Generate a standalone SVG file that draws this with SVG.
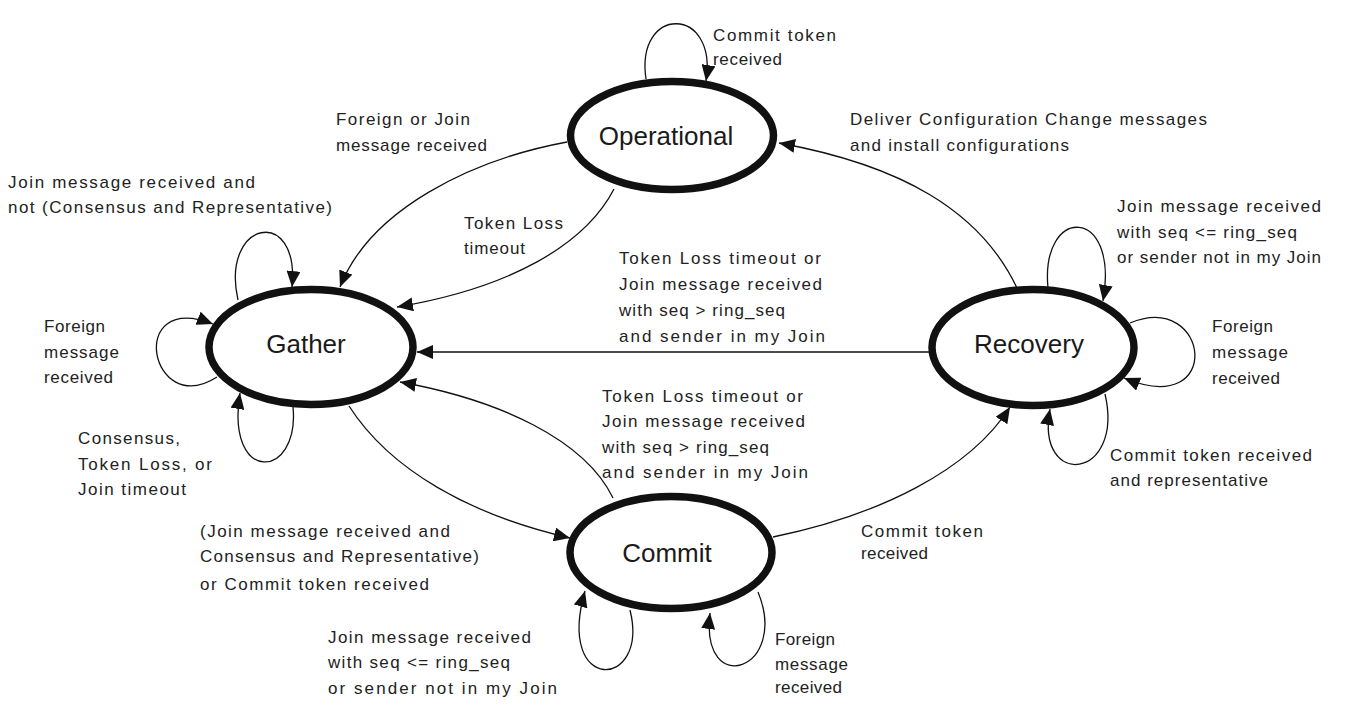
<svg xmlns="http://www.w3.org/2000/svg" width="1350" height="723" viewBox="0 0 1350 723">
<defs>
<style>
.node{fill:#fff;stroke:#111;stroke-width:7.5}
.nl{font-family:"Liberation Sans",Arial,sans-serif;font-size:26px;fill:#1a1a1a;text-anchor:middle}
.lb{font-family:"Liberation Sans",Arial,sans-serif;font-size:17px;fill:#222}
.edge{fill:none;stroke:#111;stroke-width:1.3;marker-end:url(#ah)}
</style>
<marker id="ah" markerUnits="userSpaceOnUse" markerWidth="17" markerHeight="14" refX="16" refY="7" orient="auto">
<path d="M0,0 L16,7 L0,14 z" fill="#111"/>
</marker>
</defs>
<rect width="1350" height="723" fill="#fff"/>
<g id="connectors">
<path class="edge" d="M646,79 C 635,5 718,5 706,81"/>
<path class="edge" d="M567,142 C 470,160 370,210 340,287"/>
<path class="edge" d="M614,189 C 585,245 510,288 397,307"/>
<path class="edge" d="M1017,288 C 980,210 900,165 779,143"/>
<path class="edge" d="M929,352 L417,352"/>
<path class="edge" d="M613,498 C 585,440 500,400 400,382"/>
<path class="edge" d="M349,406 C 390,470 470,515 570,538"/>
<path class="edge" d="M773,537 C 880,515 970,470 1010,407"/>
<path class="edge" d="M238,300 C 220,220 300,205 292,287"/>
<path class="edge" d="M217,377 C 150,420 125,290 213,324"/>
<path class="edge" d="M293,407 C 300,480 225,485 240,393"/>
<path class="edge" d="M1048,288 C 1040,205 1120,205 1103,301"/>
<path class="edge" d="M1130,323 C 1210,290 1225,420 1124,378"/>
<path class="edge" d="M1105,394 C 1125,480 1035,490 1050,409"/>
<path class="edge" d="M630,610 C 650,690 555,695 585,591"/>
<path class="edge" d="M758,592 C 790,670 700,700 710,613"/>
</g>
<g id="operational"><ellipse class="node" cx="672" cy="135.5" rx="101.5" ry="54"/><text class="nl" x="666" y="145">Operational</text></g>
<g id="gather"><ellipse class="node" cx="311" cy="347" rx="102" ry="57.5"/><text class="nl" x="306" y="353">Gather</text></g>
<g id="recovery"><ellipse class="node" cx="1033" cy="347.5" rx="101" ry="58"/><text class="nl" x="1029" y="353">Recovery</text></g>
<g id="commit"><ellipse class="node" cx="671" cy="552.5" rx="101" ry="56"/><text class="nl" x="667" y="562">Commit</text></g>
<g id="labels">
<text class="lb" x="713" y="41" textLength="123" lengthAdjust="spacing">Commit token</text>
<text class="lb" x="713" y="65" textLength="69" lengthAdjust="spacing">received</text>
<text class="lb" x="336" y="125" textLength="134" lengthAdjust="spacing">Foreign or Join</text>
<text class="lb" x="336" y="151" textLength="151" lengthAdjust="spacing">message received</text>
<text class="lb" x="850" y="125" textLength="357" lengthAdjust="spacing">Deliver Configuration Change messages</text>
<text class="lb" x="850" y="151" textLength="219" lengthAdjust="spacing">and install configurations</text>
<text class="lb" x="8" y="188" textLength="247" lengthAdjust="spacing">Join message received and</text>
<text class="lb" x="8" y="213" textLength="324" lengthAdjust="spacing">not (Consensus and Representative)</text>
<text class="lb" x="464" y="229" textLength="99" lengthAdjust="spacing">Token Loss</text>
<text class="lb" x="464" y="254" textLength="61" lengthAdjust="spacing">timeout</text>
<text class="lb" x="619" y="264" textLength="202" lengthAdjust="spacing">Token Loss timeout or</text>
<text class="lb" x="619" y="290" textLength="203" lengthAdjust="spacing">Join message received</text>
<text class="lb" x="619" y="316" textLength="166" lengthAdjust="spacing">with seq &gt; ring_seq</text>
<text class="lb" x="619" y="342" textLength="206" lengthAdjust="spacing">and sender in my Join</text>
<text class="lb" x="1117" y="212" textLength="204" lengthAdjust="spacing">Join message received</text>
<text class="lb" x="1117" y="238" textLength="180" lengthAdjust="spacing">with seq &lt;= ring_seq</text>
<text class="lb" x="1117" y="263" textLength="204" lengthAdjust="spacing">or sender not in my Join</text>
<text class="lb" x="44" y="332" textLength="61" lengthAdjust="spacing">Foreign</text>
<text class="lb" x="44" y="358" textLength="75" lengthAdjust="spacing">message</text>
<text class="lb" x="44" y="383" textLength="69" lengthAdjust="spacing">received</text>
<text class="lb" x="1212" y="332" textLength="61" lengthAdjust="spacing">Foreign</text>
<text class="lb" x="1212" y="358" textLength="76" lengthAdjust="spacing">message</text>
<text class="lb" x="1212" y="384" textLength="68" lengthAdjust="spacing">received</text>
<text class="lb" x="602" y="402" textLength="201" lengthAdjust="spacing">Token Loss timeout or</text>
<text class="lb" x="602" y="427" textLength="203" lengthAdjust="spacing">Join message received</text>
<text class="lb" x="602" y="453" textLength="167" lengthAdjust="spacing">with seq &gt; ring_seq</text>
<text class="lb" x="602" y="478" textLength="206" lengthAdjust="spacing">and sender in my Join</text>
<text class="lb" x="78" y="444" textLength="102" lengthAdjust="spacing">Consensus,</text>
<text class="lb" x="78" y="470" textLength="134" lengthAdjust="spacing">Token Loss, or</text>
<text class="lb" x="78" y="495" textLength="108" lengthAdjust="spacing">Join timeout</text>
<text class="lb" x="1110" y="461" textLength="202" lengthAdjust="spacing">Commit token received</text>
<text class="lb" x="1110" y="486" textLength="158" lengthAdjust="spacing">and representative</text>
<text class="lb" x="200" y="537" textLength="250" lengthAdjust="spacing">(Join message received and</text>
<text class="lb" x="200" y="562" textLength="279" lengthAdjust="spacing">Consensus and Representative)</text>
<text class="lb" x="200" y="590" textLength="229" lengthAdjust="spacing">or Commit token received</text>
<text class="lb" x="861" y="537" textLength="122" lengthAdjust="spacing">Commit token</text>
<text class="lb" x="861" y="559" textLength="67" lengthAdjust="spacing">received</text>
<text class="lb" x="328" y="643" textLength="203" lengthAdjust="spacing">Join message received</text>
<text class="lb" x="328" y="668" textLength="182" lengthAdjust="spacing">with seq &lt;= ring_seq</text>
<text class="lb" x="328" y="694" textLength="229" lengthAdjust="spacing">or sender not in my Join</text>
<text class="lb" x="775" y="645" textLength="60" lengthAdjust="spacing">Foreign</text>
<text class="lb" x="775" y="670" textLength="73" lengthAdjust="spacing">message</text>
<text class="lb" x="775" y="693" textLength="67" lengthAdjust="spacing">received</text>
</g>
</svg>
